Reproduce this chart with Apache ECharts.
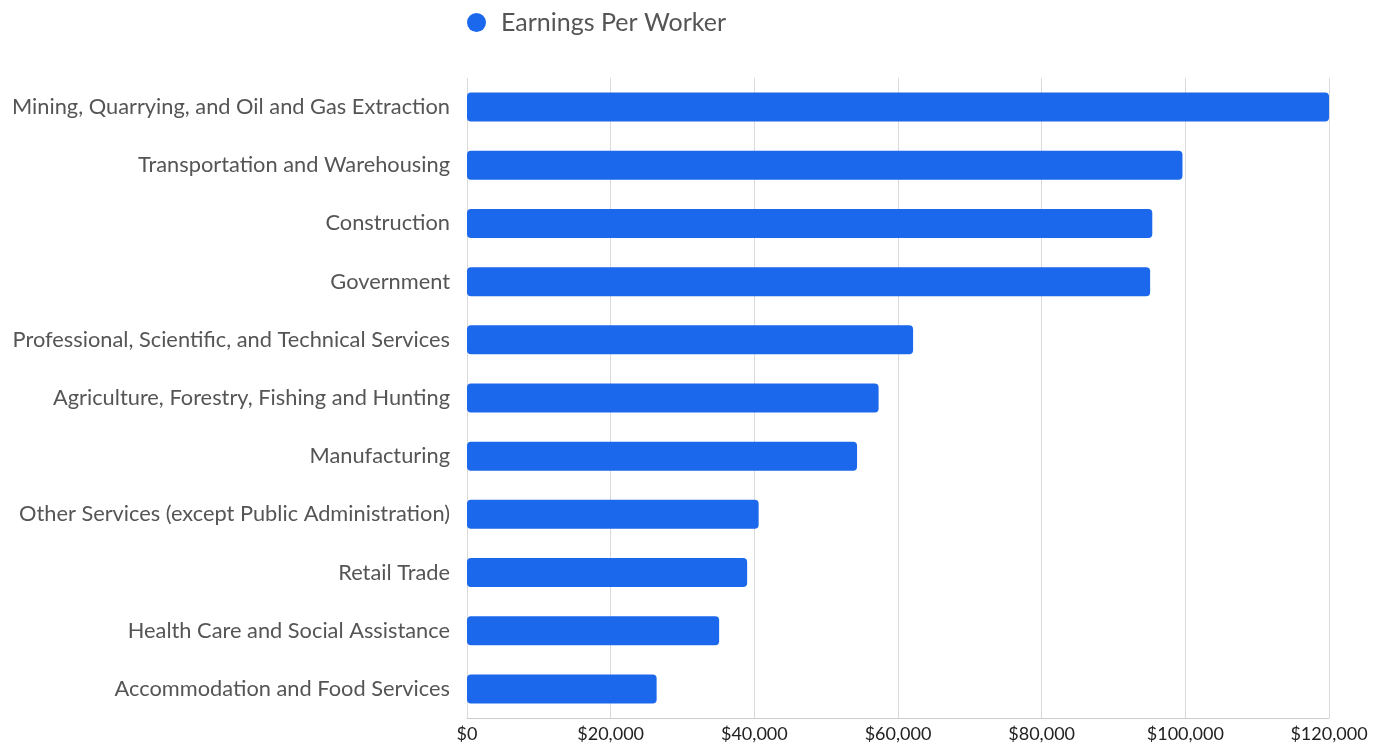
<!DOCTYPE html>
<html><head><meta charset="utf-8">
<script src="https://cdn.jsdelivr.net/npm/echarts@6/dist/echarts.min.js"></script>
<style>html,body{margin:0;padding:0;background:#fff}#c{width:1386px;height:746px}</style>
</head><body><div id="c"></div>
<script>
const categories = [
  "Mining, Quarrying, and Oil and Gas Extraction",
  "Transportation and Warehousing",
  "Construction",
  "Government",
  "Professional, Scientific, and Technical Services",
  "Agriculture, Forestry, Fishing and Hunting",
  "Manufacturing",
  "Other Services (except Public Administration)",
  "Retail Trade",
  "Health Care and Social Assistance",
  "Accommodation and Food Services"
];
const earningsPerWorker = [120000, 99600, 95400, 95100, 62100, 57300, 54300, 40600, 39000, 35100, 26400];
const seriesName = "Earnings Per Worker";

const chart = echarts.init(document.getElementById('c'), null, {renderer: 'canvas'});
chart.setOption({
  animation: false,
  textStyle: {fontFamily: 'Lato'},
  legend: {
    left: 467, top: 10, padding: 0,
    icon: 'circle', itemWidth: 19, itemHeight: 19,
    textStyle: {fontFamily: 'Lato', fontSize: 25, color: '#555', padding: [0, 0, 0, 10]},
    data: [seriesName]
  },
  grid: {left: 467, right: 57, top: 78, bottom: 28, containLabel: false},
  xAxis: {
    type: 'value', min: 0, max: 120000, interval: 20000,
    axisLine: {show: true, lineStyle: {color: '#ccc'}},
    axisTick: {show: false},
    splitLine: {show: true, lineStyle: {color: '#dadada', width: 1}},
    axisLabel: {
      fontFamily: 'Lato', fontSize: 18, color: '#222', margin: 7,
      formatter: v => '$' + v.toLocaleString('en-US')
    }
  },
  yAxis: {
    type: 'category', inverse: true, data: categories,
    axisLine: {show: false}, axisTick: {show: false},
    axisLabel: {fontFamily: 'Lato', fontSize: 21.8, color: '#555', margin: 17}
  },
  series: [{
    name: seriesName, type: 'bar', data: earningsPerWorker,
    barWidth: 29,
    itemStyle: {color: '#1c68ec', borderRadius: 4}
  }],
  color: ['#1c68ec']
});
</script></body></html>
